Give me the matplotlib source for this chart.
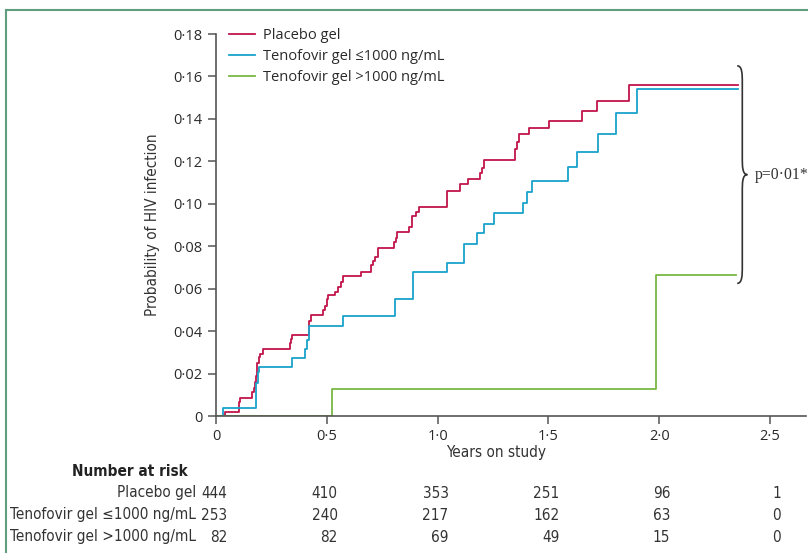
"""Kaplan-Meier style cumulative HIV infection by tenofovir level, with number-at-risk table."""
import matplotlib
matplotlib.use('Agg')
import matplotlib.pyplot as plt
from matplotlib.path import Path
from matplotlib.patches import PathPatch
from matplotlib.lines import Line2D
from matplotlib import font_manager
from matplotlib.font_manager import FontProperties
import numpy as np

# look for a condensed sans face (regular + bold) for the table text
def is_cond(f):
    return 'Narrow' in f.name or 'Condensed' in f.name or f.stretch in ('condensed', 'semi-condensed')

cond, cond_b = None, None
for f in font_manager.fontManager.ttflist:
    if f.style == 'normal' and f.weight in (400, 'normal') and is_cond(f) and cond is None:
        cond = f
if cond is not None:
    for f in font_manager.fontManager.ttflist:
        if f.name == cond.name and f.stretch == cond.stretch and f.style == 'normal' \
                and f.weight in (700, 'bold'):
            cond_b = f.fname
            break

def tfont(size, bold=False):
    if cond is not None:
        if bold and cond_b:
            return FontProperties(fname=cond_b, size=size)
        return FontProperties(fname=cond.fname, size=size, weight='bold' if bold else 'normal')
    return FontProperties(family='DejaVu Sans', size=size - 1.2, weight='bold' if bold else 'normal')

plt.rcParams.update({'font.family': ['Open Sans', 'DejaVu Sans'], 'font.size': 10.5})

# ---- data (years, cumulative probability) ----
placebo_t = [0, 0.041, 0.104, 0.108, 0.162, 0.171, 0.177, 0.182, 0.186, 0.192, 0.198, 0.210,
             0.333, 0.339, 0.343, 0.421, 0.429, 0.483, 0.492, 0.499, 0.506, 0.537, 0.550,
             0.564, 0.574, 0.655, 0.699, 0.708, 0.717, 0.731, 0.803, 0.812, 0.817, 0.871,
             0.884, 0.902, 0.916, 1.041, 1.101, 1.138, 1.191, 1.200, 1.209, 1.349, 1.358,
             1.367, 1.412, 1.503, 1.650, 1.720, 1.865, 2.356]
placebo_p = [0, 0.002, 0.0067, 0.0086, 0.0115, 0.013, 0.016, 0.019, 0.025, 0.0277, 0.0292,
             0.0316, 0.0345, 0.0363, 0.038, 0.0448, 0.0474, 0.050, 0.052, 0.055, 0.057,
             0.0586, 0.061, 0.063, 0.066, 0.068, 0.071, 0.073, 0.075, 0.0793, 0.082, 0.084,
             0.0867, 0.0892, 0.0943, 0.096, 0.0986, 0.106, 0.1093, 0.1115, 0.1144, 0.117,
             0.1206, 0.1257, 0.129, 0.1327, 0.1356, 0.139, 0.1437, 0.1484, 0.1561, 0.1561]

low_t = [0, 0.033, 0.181, 0.188, 0.195, 0.341, 0.401, 0.412, 0.420, 0.571, 0.808, 0.888,
         1.041, 1.119, 1.179, 1.209, 1.255, 1.387, 1.402, 1.424, 1.587, 1.630, 1.722,
         1.805, 1.898, 2.356]
low_p = [0, 0.0036, 0.0157, 0.0209, 0.0232, 0.0275, 0.0316, 0.0358, 0.0424, 0.0471, 0.055,
         0.068, 0.072, 0.081, 0.086, 0.0903, 0.0958, 0.1005, 0.1057, 0.1107, 0.1175, 0.1246,
         0.1327, 0.1426, 0.1541, 0.1541]

high_t = [0, 0.525, 1.984, 2.345]
high_p = [0, 0.0127, 0.0664, 0.0664]

labels = ['Placebo gel', 'Tenofovir gel \u22641000 ng/mL', 'Tenofovir gel >1000 ng/mL']
colors = ['#C2154A', '#1AA3CC', '#78B843']

risk_times = [0, 0.5, 1.0, 1.5, 2.0, 2.5]
risk_placebo = [444, 410, 353, 251, 96, 1]
risk_low = [253, 240, 217, 162, 63, 0]
risk_high = [82, 82, 69, 49, 15, 0]

fig = plt.figure(figsize=(8.08, 5.53), dpi=100)
ax = fig.add_axes([216 / 808, 137 / 553, 590 / 808, 382 / 553])

for t, p, c, lab in zip([placebo_t, low_t, high_t], [placebo_p, low_p, high_p], colors, labels):
    ax.step(t, p, where='post', color=c, lw=1.3, label=lab)

ax.set_xlim(0, 590 / 221.6)
ax.set_ylim(0, 0.18)
ax.set_xticks(risk_times)
ax.set_xticklabels([f'{v:.1f}'.replace('.', '\u00b7') if v else '0' for v in risk_times])
yt = np.arange(0, 0.181, 0.02)
ax.set_yticks(yt)
ax.set_yticklabels(['0'] + [f'{v:.2f}'.replace('.', '\u00b7') for v in yt[1:]])
for s in ['top', 'right']:
    ax.spines[s].set_visible(False)
for s in ['left', 'bottom']:
    ax.spines[s].set_color('#555555')
    ax.spines[s].set_linewidth(1.2)
ax.tick_params(colors='#555555', labelcolor='#2a2a2a', width=1.1, length=6, labelsize=10.5)
ax.set_xlabel('Years on study', fontproperties=tfont(11), color='#333333')
ax.xaxis.set_label_coords(0.475, -0.075)
ax.set_ylabel('Probability of HIV infection', fontproperties=tfont(11), color='#333333')
ax.yaxis.set_label_coords(-0.095, 0.5)

ax.legend(loc='upper left', bbox_to_anchor=(0.0, 1.05), frameon=False, handlelength=1.8,
          handletextpad=0.5, labelspacing=0.42, fontsize=10.5, labelcolor='#2a2a2a')

# brace with p value
xl, xm, xt = 2.352, 2.375, 2.398
yt_, yb, c = 0.165, 0.0625, 0.004
ym = (yt_ + yb) / 2
verts = [(xl, yt_), (xm, yt_), (xm, yt_ - c), (xm, yt_ - 2 * c),
         (xm, ym + 2 * c),
         (xm, ym + c), (xm, ym), (xt, ym),
         (xm, ym), (xm, ym - c), (xm, ym - 2 * c),
         (xm, yb + 2 * c),
         (xm, yb + c), (xm, yb), (xl, yb)]
codes = [Path.MOVETO, Path.CURVE4, Path.CURVE4, Path.CURVE4, Path.LINETO,
         Path.CURVE4, Path.CURVE4, Path.CURVE4, Path.CURVE4, Path.CURVE4, Path.CURVE4,
         Path.LINETO, Path.CURVE4, Path.CURVE4, Path.CURVE4]
ax.add_patch(PathPatch(Path(verts, codes), fc='none', ec='#333333', lw=1.2, clip_on=False))
ax.text(2.43, ym, 'p=0\u00b701*', ha='left', va='center', fontsize=11.3, color='#333333',
        family=['Liberation Serif', 'DejaVu Serif'], clip_on=False)

# number at risk table
fig.text(188 / 808, 1 - 472 / 553, 'Number at risk', ha='right', va='center',
         fontproperties=tfont(11, bold=True), color='#222222')
for i, (lab, row) in enumerate(zip(labels, [risk_placebo, risk_low, risk_high])):
    yf = 1 - (493 + 22 * i) / 553
    fig.text(196 / 808, yf, lab, ha='right', va='center', fontproperties=tfont(11),
             color='#333333')
    for t, n in zip(risk_times, row):
        xf = (216 + t * 221.6 + 11) / 808
        fig.text(xf, yf, str(n), ha='right', va='center', fontproperties=tfont(11),
                 color='#333333')

# green frame on top and left
fig.add_artist(Line2D([6 / 808, 1], [1 - 10 / 553, 1 - 10 / 553], color='#5E9E7E', lw=1.5))
fig.add_artist(Line2D([6 / 808, 6 / 808], [0, 1 - 10 / 553], color='#5E9E7E', lw=1.5))

fig.savefig('out.png', dpi=100)
